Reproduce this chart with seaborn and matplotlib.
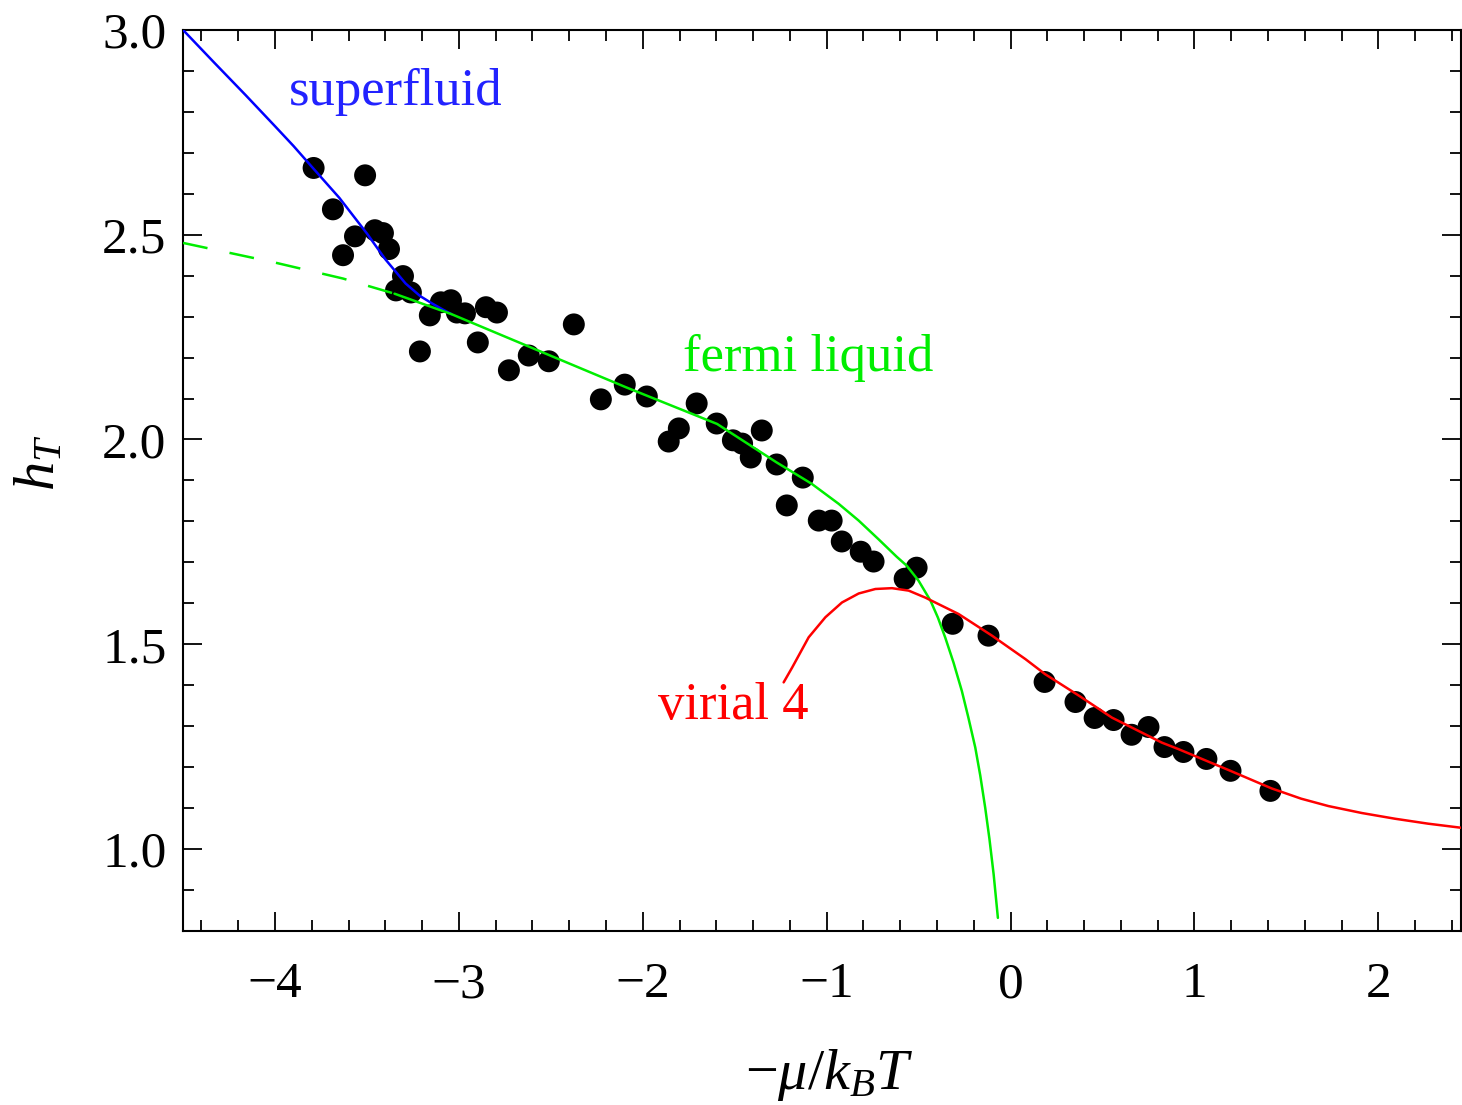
import matplotlib
matplotlib.use("Agg")
import matplotlib.pyplot as plt
from matplotlib.ticker import MultipleLocator, FormatStrFormatter
import seaborn as sns

# ---- data points ----
x_data = [-3.79, -3.51, -3.685, -3.565, -3.457, -3.413, -3.63, -3.38, -3.304, -3.342,
          -3.261, -3.158, -3.098, -3.043, -3.011, -2.967, -3.212, -2.897, -2.853, -2.793,
          -2.728, -2.62, -2.511, -2.375, -2.228, -2.098, -1.978, -1.859, -1.804, -1.707,
          -1.598, -1.51, -1.46, -1.413, -1.353, -1.272, -1.217, -1.13, -1.043, -0.973,
          -0.918, -0.815, -0.745, -0.576, -0.511, -0.315, -0.12, 0.185, 0.353, 0.457,
          0.56, 0.658, 0.75, 0.837, 0.94, 1.065, 1.196, 1.413]
y_data = [2.663, 2.645, 2.562, 2.496, 2.511, 2.504, 2.450, 2.465, 2.399, 2.364,
          2.359, 2.303, 2.335, 2.340, 2.310, 2.308, 2.215, 2.237, 2.323, 2.310,
          2.169, 2.205, 2.191, 2.281, 2.098, 2.134, 2.105, 1.995, 2.027, 2.088,
          2.039, 1.998, 1.990, 1.956, 2.022, 1.939, 1.839, 1.907, 1.802, 1.802,
          1.751, 1.726, 1.702, 1.660, 1.687, 1.550, 1.521, 1.408, 1.359, 1.320,
          1.315, 1.279, 1.298, 1.249, 1.237, 1.220, 1.191, 1.142]

# ---- theory curves ----
superfluid_x = [-4.5, -4.33, -4.16, -4.0, -3.9, -3.8, -3.65, -3.5, -3.4, -3.29, -3.21,
                -3.145, -3.09, -3.04]
superfluid_y = [3.0, 2.92, 2.841, 2.765, 2.717, 2.666, 2.59, 2.503, 2.44, 2.381, 2.35,
                2.332, 2.318, 2.306]

fermi_dash_x = [-4.5, -4.0, -3.63, -3.35]
fermi_dash_y = [2.480, 2.432, 2.393, 2.356]

fermi_x = [-3.35, -3.04, -2.53, -2.094, -1.596, -1.272, -1.082, -0.935, -0.826, -0.717,
           -0.620, -0.565, -0.500, -0.435, -0.395, -0.355, -0.31, -0.265, -0.23, -0.192,
           -0.165, -0.138, -0.115, -0.092, -0.069]
fermi_y = [2.356, 2.306, 2.210, 2.128, 2.038, 1.944, 1.892, 1.843, 1.802, 1.756,
           1.714, 1.692, 1.655, 1.606, 1.565, 1.516, 1.455, 1.386, 1.322, 1.248,
           1.180, 1.101, 1.025, 0.938, 0.832]

virial_x = [-1.234, -1.188, -1.098, -1.007, -0.917, -0.826, -0.735, -0.645, -0.554, -0.464,
            -0.283, -0.101, 0.08, 0.188, 0.37, 0.551, 0.822, 0.913, 1.094, 1.185, 1.42,
            1.58, 1.728, 1.91, 2.091, 2.27, 2.45]
virial_y = [1.407, 1.443, 1.517, 1.566, 1.602, 1.624, 1.635, 1.637, 1.631, 1.614,
            1.574, 1.521, 1.464, 1.427, 1.375, 1.321, 1.260, 1.244, 1.210, 1.193, 1.148,
            1.123, 1.105, 1.088, 1.074, 1.062, 1.052]

labels = ["superfluid", "fermi liquid", "virial 4"]
label_x = [-3.342, -1.098, -1.505]
label_y = [2.848, 2.200, 1.350]

sns.set_theme(style="ticks")
plt.rcParams["font.family"] = ["Liberation Serif", "DejaVu Serif"]
plt.rcParams["mathtext.fontset"] = "custom"
plt.rcParams["mathtext.rm"] = "Liberation Serif"
plt.rcParams["mathtext.it"] = "Liberation Serif:italic"
plt.rcParams["text.color"] = "black"
plt.rcParams["axes.labelcolor"] = "black"
plt.rcParams["xtick.color"] = "black"
plt.rcParams["ytick.color"] = "black"

fig = plt.figure(figsize=(14.62, 11.05), dpi=100)
ax = fig.add_axes([0.1252, 0.1575, 0.8742, 0.8154])

sns.scatterplot(x=x_data, y=y_data, color="black", s=250, edgecolor="none",
                ax=ax, zorder=2)

lw = 1.8
sns.lineplot(x=superfluid_x, y=superfluid_y, color="#0000ff", lw=lw, sort=False,
             estimator=None, ax=ax, zorder=3)
sns.lineplot(x=fermi_dash_x, y=fermi_dash_y, color="#00ee00", lw=lw, sort=False,
             estimator=None, ax=ax, zorder=3)
ax.lines[-1].set_dashes([10, 9])
sns.lineplot(x=fermi_x, y=fermi_y, color="#00ee00", lw=lw, sort=False,
             estimator=None, ax=ax, zorder=3)
sns.lineplot(x=virial_x, y=virial_y, color="#ff0000", lw=lw, sort=False,
             estimator=None, ax=ax, zorder=3)
for ln in ax.lines:
    ln.set_solid_joinstyle("round")

colors = ["#2222ff", "#00ee00", "#ff0000"]
for t, lx, ly, c in zip(labels, label_x, label_y, colors):
    ax.text(lx, ly, t, color=c, fontsize=38, ha="center", va="center",
            family=["Liberation Serif"])

ax.set_xlim(-4.5, 2.45)
ax.set_ylim(0.8, 3.0)
ax.xaxis.set_major_locator(MultipleLocator(1))
ax.xaxis.set_minor_locator(MultipleLocator(0.2))
ax.yaxis.set_major_locator(MultipleLocator(0.5))
ax.yaxis.set_minor_locator(MultipleLocator(0.1))
ax.yaxis.set_major_formatter(FormatStrFormatter("%.1f"))
ax.tick_params(which="both", direction="in", top=True, right=True, color="black",
               width=1.3, labelcolor="black")
ax.tick_params(which="major", length=14, labelsize=37)
ax.tick_params(which="minor", length=8)
ax.tick_params(axis="x", which="major", pad=22)
ax.tick_params(axis="y", which="major", pad=12)
for s in ax.spines.values():
    s.set_linewidth(1.5)
    s.set_color("black")

ax.set_xlabel(r"$-\mu/k_B T$", fontsize=42, color="black", va="center")
ax.set_ylabel(r"$h_T$", fontsize=42, color="black", va="center")
ax.xaxis.set_label_coords(0.506, -0.16)
ax.yaxis.set_label_coords(-0.112, 0.52)
ax.grid(False)

fig.savefig("out.png", dpi=100)
